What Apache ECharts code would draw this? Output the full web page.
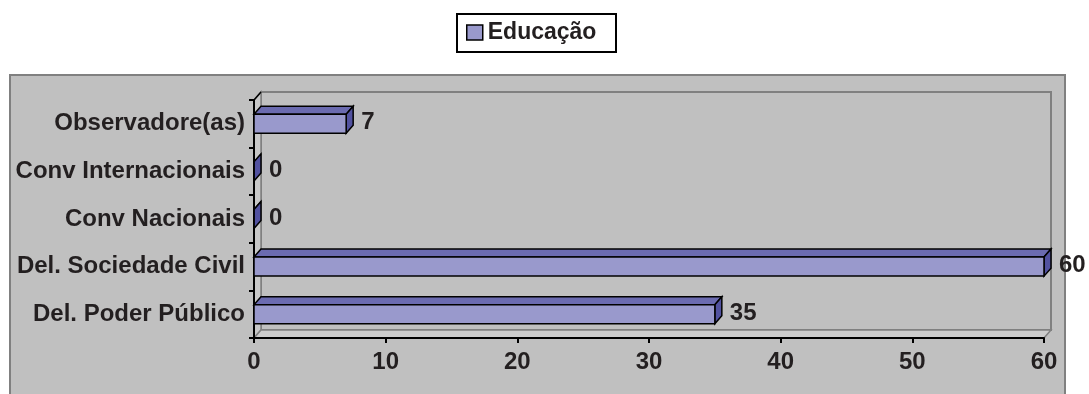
<!DOCTYPE html>
<html>
<head>
<meta charset="utf-8">
<script src="https://cdn.jsdelivr.net/npm/echarts@6/dist/echarts.min.js"></script>
<style>
  * { margin: 0; padding: 0; }
  body { background: #fff; }
</style>
</head>
<body>
<div id="main" style="width: 1089px;height: 394px;"></div>
<script>
    // data (bottom to top, like the source)
    var categories = ['Del. Poder Público', 'Del. Sociedade Civil', 'Conv Nacionais', 'Conv Internacionais', 'Observadore(as)'];
    var values = [35, 60, 0, 0, 7];
    var seriesName = 'Educação';
    var xMin = 0, xMax = 60, xStep = 10;

    // layout
    var G = {left: 254, top: 100, right: 1044, bottom: 338};
    var DX = 7, DY = -8;
    var FONT = '"Liberation Sans", Arial, Helvetica, sans-serif';
    var TXT = '#231F20';
    var FRONT = '#9999CC', TOP = '#6B6BB0', SIDE = '#5252A0';

    function renderItem(params, api) {
        var val = api.value(0), cat = api.value(1);
        var p0 = api.coord([0, cat]);
        var p1 = api.coord([val, cat]);
        var h = api.size([0, 1])[1] * 0.4;
        var x0 = p0[0], x1 = p1[0], y = p0[1] - h / 2;
        var line = {stroke: '#000', lineWidth: 1.5};
        return {
            type: 'group',
            children: [
                {type: 'polygon', shape: {points: [[x0, y], [x0 + DX, y + DY], [x1 + DX, y + DY], [x1, y]]},
                    style: Object.assign({fill: TOP}, line)},
                {type: 'polygon', shape: {points: [[x1, y], [x1 + DX, y + DY], [x1 + DX, y + h + DY], [x1, y + h]]},
                    style: Object.assign({fill: SIDE}, line)},
                {type: 'rect', shape: {x: x0, y: y, width: x1 - x0, height: h},
                    style: Object.assign({fill: FRONT}, line)},
                {type: 'text', style: {text: String(val), x: x1 + 15, y: y + h / 2 - 1,
                    verticalAlign: 'middle', font: 'bold 24px ' + FONT, fill: TXT}}
            ]
        };
    }

    var chart = echarts.init(document.getElementById('main'));
    chart.setOption({
        backgroundColor: '#fff',
        animation: false,
        graphic: [
            {
                type: 'group', z: -10,
                children: [
                    // outer chart area
                    {type: 'rect', z: -10, shape: {x: 10, y: 75, width: 1055, height: 340},
                        style: {fill: '#C0C0C0', stroke: '#808080', lineWidth: 2}},
                    // back wall
                    {type: 'rect', z: -9, shape: {x: G.left + DX, y: G.top + DY, width: G.right - G.left, height: G.bottom - G.top},
                        style: {fill: '#C0C0C0', stroke: '#808080', lineWidth: 2}},
                    // left wall
                    {type: 'polygon', z: -8, shape: {points: [[G.left, G.top], [G.left + DX, G.top + DY], [G.left + DX, G.bottom + DY], [G.left, G.bottom]]},
                        style: {fill: '#C8C8C8', stroke: '#808080', lineWidth: 1.5}},
                    // floor
                    {type: 'polygon', z: -8, shape: {points: [[G.left, G.bottom], [G.left + DX, G.bottom + DY], [G.right + DX, G.bottom + DY], [G.right, G.bottom]]},
                        style: {fill: '#CCCCCC', stroke: '#808080', lineWidth: 1.5}},
                    // top edge of the left wall
                    {type: 'line', z: -7, shape: {x1: G.left, y1: G.top, x2: G.left + DX, y2: G.top + DY},
                        style: {stroke: '#000', lineWidth: 1.5}}
                ]
            },
            // legend frame
            {type: 'rect', z: 5, shape: {x: 457, y: 14, width: 159, height: 38},
                style: {fill: 'transparent', stroke: '#000', lineWidth: 2}}
        ],
        legend: {
            left: 466,
            top: 21,
            padding: 0,
            icon: 'rect',
            itemWidth: 16,
            itemHeight: 15,
            itemStyle: {borderColor: '#000', borderWidth: 1.5},
            textStyle: {fontFamily: FONT, fontWeight: 'bold', fontSize: 23, color: TXT},
            data: [seriesName]
        },
        grid: {
            left: G.left,
            top: G.top,
            width: G.right - G.left,
            height: G.bottom - G.top,
            containLabel: false
        },
        xAxis: {
            type: 'value',
            min: xMin,
            max: xMax,
            interval: xStep,
            axisLine: {show: true, lineStyle: {color: '#000', width: 2}},
            axisTick: {show: true, length: 5, lineStyle: {color: '#000', width: 2}},
            splitLine: {show: false},
            axisLabel: {margin: 12, fontFamily: FONT, fontWeight: 'bold', fontSize: 24, color: TXT}
        },
        yAxis: {
            type: 'category',
            data: categories,
            axisLine: {show: true, lineStyle: {color: '#000', width: 2}},
            axisTick: {show: true, length: 5, lineStyle: {color: '#000', width: 2}},
            axisLabel: {margin: 9, fontFamily: FONT, fontWeight: 'bold', fontSize: 24, color: TXT}
        },
        series: [{
            name: seriesName,
            type: 'custom',
            renderItem: renderItem,
            itemStyle: {color: FRONT},
            encode: {x: 0, y: 1},
            clip: false,
            data: values.map(function (v, i) { return [v, i]; })
        }]
    });
</script>
</body>
</html>
